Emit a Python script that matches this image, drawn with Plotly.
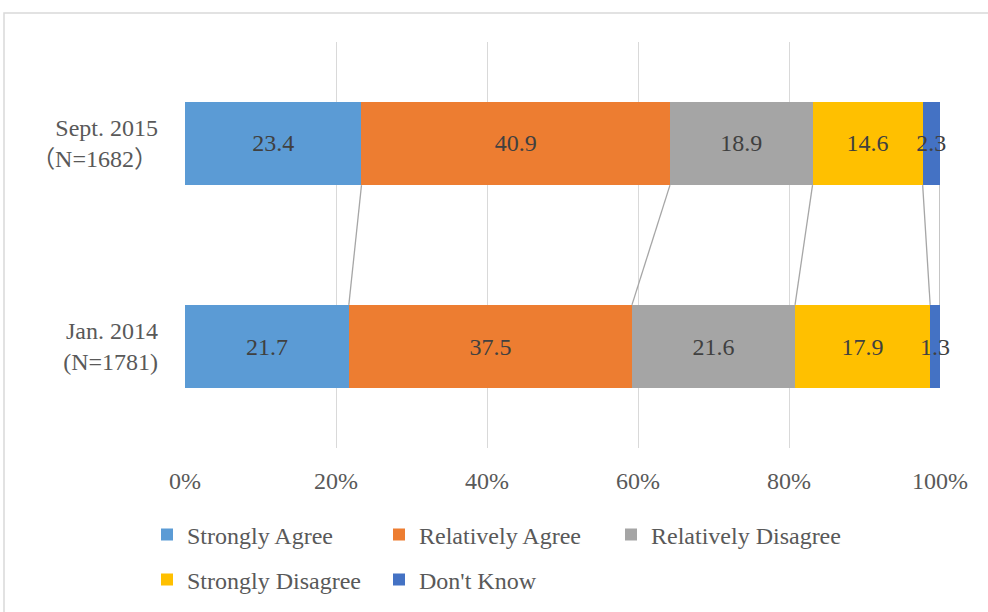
import plotly.graph_objects as go

categories = ["Jan. 2014<br>(N=1781)", "Sept. 2015<br>（N=1682）"]
series_names = ["Strongly Agree", "Relatively Agree", "Relatively Disagree", "Strongly Disagree", "Don't Know"]
jan_2014 = [21.7, 37.5, 21.6, 17.9, 1.3]
sept_2015 = [23.4, 40.9, 18.9, 14.6, 2.3]
colors = ["#5B9BD5", "#ED7D31", "#A5A5A5", "#FFC000", "#4472C4"]
x_ticks = [0, 20, 40, 60, 80, 100]
x_tick_labels = ["0%", "20%", "40%", "60%", "80%", "100%"]

FONT = "Liberation Serif, Noto Sans CJK JP, serif"
FS = 24
ypos = [0, 1]
bar_w = 0.41

fig = go.Figure()
for i, name in enumerate(series_names):
    vals = [jan_2014[i], sept_2015[i]]
    fig.add_trace(go.Bar(
        y=ypos, x=vals, orientation="h", name=name,
        marker=dict(color=colors[i], line=dict(width=0)),
        width=bar_w,
        text=[f"{v:.1f}" for v in vals], textposition="inside", textangle=0,
        insidetextanchor="middle", constraintext="none", cliponaxis=False,
        textfont=dict(family=FONT, size=FS, color="#404040"),
        legend="legend" if i < 3 else "legend2",
        hoverinfo="skip",
    ))

# series lines (connect segment ends between bars), normalized to 100%
def cum_norm(vals):
    s = sum(vals)
    out, acc = [], 0
    for v in vals:
        acc += v
        out.append(acc / s * 100)
    return out

c_top = cum_norm(sept_2015)
c_bot = cum_norm(jan_2014)
lx, ly = [], []
for a, b in zip(c_top, c_bot):
    lx += [a, b, None]
    ly += [1 - bar_w / 2, 0 + bar_w / 2, None]
fig.add_trace(go.Scatter(x=lx, y=ly, mode="lines", line=dict(color="#A6A6A6", width=1.3),
                         showlegend=False, hoverinfo="skip"))

leg_common = dict(orientation="h", xref="container", yref="container",
                  xanchor="left", yanchor="middle", entrywidth=187, entrywidthmode="pixels",
                  traceorder="normal",
                  font=dict(size=FS, color="#595959"), bgcolor="rgba(0,0,0,0)",
                  itemclick=False, itemdoubleclick=False)

fig.update_layout(
    width=988, height=612,
    margin=dict(l=185, r=48, t=42, b=164),
    barmode="stack", barnorm="percent",
    plot_bgcolor="white", paper_bgcolor="white",
    font=dict(family=FONT, color="#595959", size=FS),
    xaxis=dict(range=[0, 100], tickvals=x_ticks, ticktext=x_tick_labels,
               showgrid=True, gridcolor="#D9D9D9", gridwidth=1,
               zeroline=False, showline=False,
               ticklabelstandoff=16, tickfont=dict(size=FS, color="#595959")),
    yaxis=dict(range=[-0.5, 1.5], tickvals=ypos, ticktext=categories,
               showgrid=False, zeroline=False, showline=False,
               ticklabelstandoff=26, tickfont=dict(size=FS, color="#595959")),
    legend=dict(x=147 / 988, y=1 - 535 / 612, **leg_common),
    legend2=dict(x=147 / 988, y=1 - 580 / 612, **leg_common),
    shapes=[dict(type="rect", xref="paper", yref="paper",
                 x0=(4 - 185) / 755, x1=(995 - 185) / 755,
                 y0=(448 - 620) / 406, y1=1 + (42 - 13) / 406,
                 line=dict(color="#D9D9D9", width=1.5), layer="below")],
)

fig.write_html("out.html")
